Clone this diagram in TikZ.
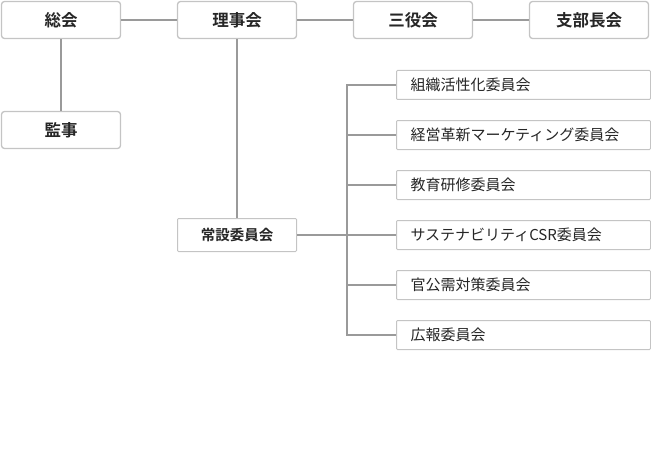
\documentclass[tikz,border=0pt]{standalone}
\usepackage{fontspec}
\newfontfamily\jpfont{Noto Sans CJK JP}[BoldFont={Noto Sans CJK JP Bold}]
\usetikzlibrary{positioning,calc}
\definecolor{wire}{HTML}{9A9A9A}
\definecolor{frame}{HTML}{C4C4C4}
\definecolor{ink}{HTML}{262626}

\begin{document}
\begin{tikzpicture}[x=1pt, y=-1pt,
    every node/.style={text=ink, font=\jpfont},
    topbox/.style={draw=frame, line width=1.3pt, rounded corners=3pt, fill=white,
      minimum width=119pt, minimum height=37pt, font=\jpfont\bfseries\fontsize{16.5}{18}\selectfont},
    subbox/.style={draw=frame, line width=1pt, rounded corners=1pt, fill=white,
      minimum width=119pt, minimum height=33pt, font=\jpfont\bfseries\fontsize{14.5}{16}\selectfont},
    cbox/.style={draw=frame, line width=1pt, rounded corners=1pt, fill=white, anchor=west,
      text width=226pt, inner xsep=14pt, minimum height=29pt, align=left,
      font=\jpfont\fontsize{15}{17}\selectfont},
    wireline/.style={draw=wire, line width=1.4pt}]
    \useasboundingbox (0,0) rectangle (651,452);

    % top row
    \node[topbox] (sokai) at (61,20) {総会};
    \node[topbox] (rijikai) at (237,20) {理事会};
    \node[topbox] (sanyaku) at (413,20) {三役会};
    \node[topbox] (shibu) at (589,20) {支部長会};
    \node[topbox] (kanji) at (61,130) {監事};
    \foreach \u/\v in {sokai/rijikai,rijikai/sanyaku,sanyaku/shibu}
      \draw[wireline] (\u) -- (\v);
    \draw[wireline] (sokai) -- (kanji);

    % committees
    \node[subbox] (josetsu) at (237,235) {常設委員会};
    \draw[wireline] (rijikai) -- (josetsu);
    \coordinate (bus) at (347,235);
    \foreach \n/\y/\t in {c1/85/組織活性化委員会,c2/135/経営革新マーケティング委員会,
        c3/185/教育研修委員会,c4/235/サステナビリティCSR委員会,
        c5/285/官公需対策委員会,c6/335/広報委員会}{
      \node[cbox] (\n) at (396,\y) {\t};
      \draw[wireline] (\n.west) -- (bus |- \n.west);
    }
    \draw[wireline] (josetsu) -- (bus);
    \draw[wireline, line cap=rect] (bus |- c1.west) -- (bus |- c6.west);
  \end{tikzpicture}
\end{document}
